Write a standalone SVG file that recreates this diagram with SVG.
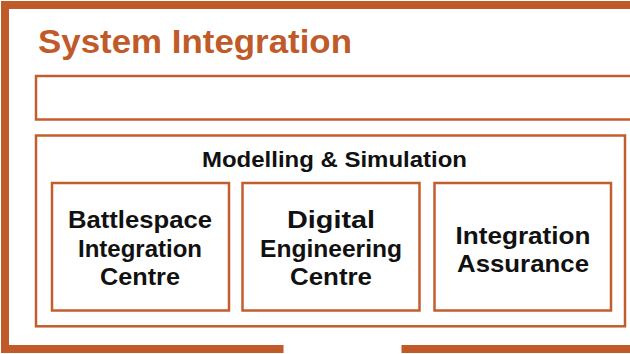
<svg xmlns="http://www.w3.org/2000/svg" width="630" height="354" viewBox="0 0 630 354">
<style>
.frame{fill:none;stroke:#C05B29;stroke-width:8}
.box{fill:#fff;stroke:#C25D2C;stroke-width:2.5}
.title{font-family:"Liberation Sans",Arial,sans-serif;font-weight:bold;fill:#C05B29;font-size:33px}
.sub{font-family:"Liberation Sans",Arial,sans-serif;font-weight:bold;fill:#111;font-size:22px}
.lbl{font-family:"Liberation Sans",Arial,sans-serif;font-weight:bold;fill:#111;font-size:24px;text-anchor:middle}
</style>
<rect width="630" height="354" fill="#fff"/>
<g id="outer-frame">
<path class="frame" d="M640 5 H5 V349 H283.5 M401.5 349 H640"/>
<text class="title" x="38" y="52.5" textLength="314" lengthAdjust="spacingAndGlyphs">System Integration</text>
</g>
<g id="top-box">
<rect class="box" x="36" y="76" width="620" height="43.5"/>
</g>
<g id="modelling-simulation">
<rect class="box" x="36" y="135.5" width="589" height="190.8"/>
<text class="sub" x="334.5" y="166.5" text-anchor="middle" textLength="265" lengthAdjust="spacingAndGlyphs">Modelling &amp; Simulation</text>
</g>
<g id="battlespace">
<rect class="box" x="52" y="183" width="177" height="127.5"/>
<text class="lbl" x="140" y="228" textLength="144" lengthAdjust="spacingAndGlyphs">Battlespace</text>
<text class="lbl" x="140" y="256.5" textLength="124" lengthAdjust="spacingAndGlyphs">Integration</text>
<text class="lbl" x="140" y="285" textLength="80" lengthAdjust="spacingAndGlyphs">Centre</text>
</g>
<g id="digital-engineering">
<rect class="box" x="242.5" y="183" width="177" height="127.5"/>
<text class="lbl" x="331" y="228" textLength="88" lengthAdjust="spacingAndGlyphs">Digital</text>
<text class="lbl" x="331" y="256.5" textLength="142" lengthAdjust="spacingAndGlyphs">Engineering</text>
<text class="lbl" x="331" y="285" textLength="82" lengthAdjust="spacingAndGlyphs">Centre</text>
</g>
<g id="integration-assurance">
<rect class="box" x="434.5" y="183" width="176.5" height="127.5"/>
<text class="lbl" x="523" y="243.5" textLength="135" lengthAdjust="spacingAndGlyphs">Integration</text>
<text class="lbl" x="523" y="271.5" textLength="132" lengthAdjust="spacingAndGlyphs">Assurance</text>
</g>
<g id="connectors"/>
</svg>
